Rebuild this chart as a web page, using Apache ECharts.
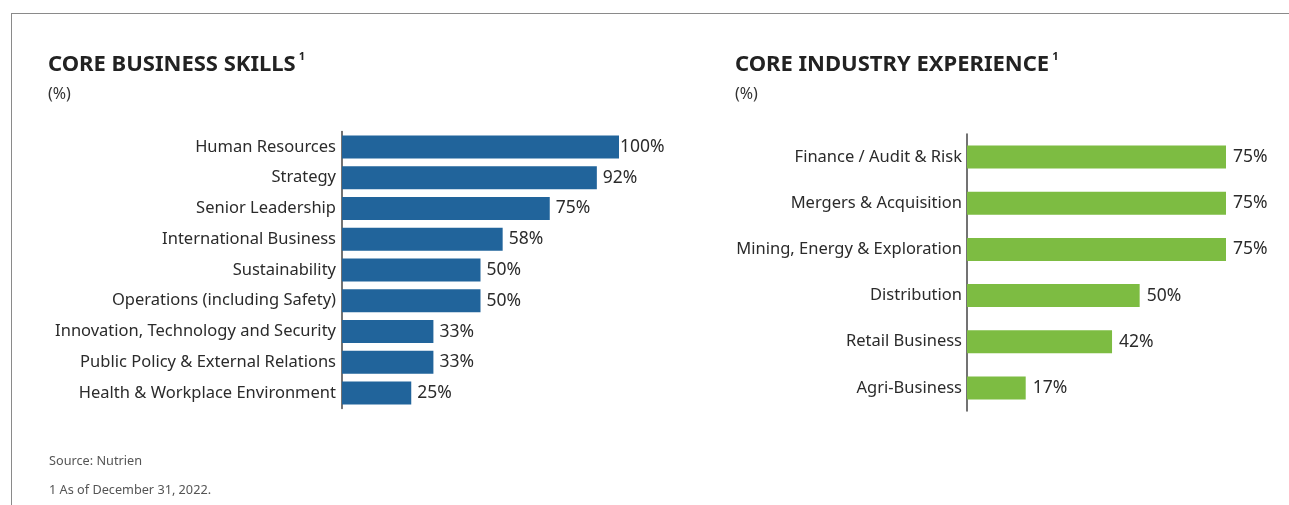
<!DOCTYPE html>
<html>
<head>
<meta charset="utf-8">
<script src="https://cdn.jsdelivr.net/npm/echarts@6/dist/echarts.min.js"></script>
<style>
  html, body { margin: 0; padding: 0; background: #fff; }
  #frame { position: absolute; left: 11px; top: 13px; right: 0; bottom: 0;
           border-top: 1px solid #8a8a8a; border-left: 1px solid #8a8a8a; }
  #chart { position: absolute; left: 0; top: 0; width: 1289px; height: 505px; }
</style>
</head>
<body>
<div id="frame"></div>
<div id="chart"></div>
<script>
  // core business skills (%)
  let skillNames = [
    'Human Resources', 'Strategy', 'Senior Leadership', 'International Business',
    'Sustainability', 'Operations (including Safety)', 'Innovation, Technology and Security',
    'Public Policy & External Relations', 'Health & Workplace Environment'
  ];
  let skillValues = [100, 92, 75, 58, 50, 50, 33, 33, 25];

  // core industry experience (%)
  let industryNames = [
    'Finance / Audit & Risk', 'Mergers & Acquisition', 'Mining, Energy & Exploration',
    'Distribution', 'Retail Business', 'Agri-Business'
  ];
  let industryValues = [75, 75, 75, 50, 42, 17];

  const FONT = '"Noto Sans", "Open Sans", sans-serif';
  const TEXT = '#2b2b2b';

  let chart = echarts.init(document.getElementById('chart'));

  function titleText(txt) {
    return {
      text: '{t|' + txt + '}{s|1}',
      textStyle: {
        rich: {
          t: { fontFamily: FONT, fontSize: 22, fontWeight: 'bold', color: '#222', lineHeight: 27 },
          s: { fontFamily: FONT, fontSize: 11, fontWeight: 'bold', color: '#222', verticalAlign: 'top', lineHeight: 27, padding: [0, 0, 0, 3] }
        }
      },
      subtext: '(%)',
      subtextStyle: { fontFamily: FONT, fontSize: 16, color: '#333' },
      itemGap: 11
    };
  }

  function barData(values) {
    // the 100% label sits almost on the bar end in the original
    return values.map(v => v === 100 ? { value: v, label: { distance: 1 } } : v);
  }

  let labelStyle = { fontFamily: FONT, fontSize: 16.5, color: TEXT };
  let valueStyle = { fontFamily: FONT, fontSize: 17.5, color: TEXT };

  chart.setOption({
    animation: false,
    title: [
      Object.assign({ left: 43, top: 46 }, titleText('CORE BUSINESS SKILLS')),
      Object.assign({ left: 730, top: 46 }, titleText('CORE INDUSTRY EXPERIENCE')),
      {
        left: 44, top: 450,
        text: 'Source: Nutrien',
        textStyle: { fontFamily: FONT, fontSize: 12.7, fontWeight: 'normal', color: '#555' },
        subtext: '1 As of December 31, 2022.',
        subtextStyle: { fontFamily: FONT, fontSize: 12.7, color: '#555' },
        itemGap: 16
      }
    ],
    grid: [
      { left: 342, top: 131.5, width: 277, height: 277 },
      { left: 967, top: 134, width: 259, height: 277 }
    ],
    xAxis: [
      { gridIndex: 0, type: 'value', min: 0, max: 100, show: false },
      { gridIndex: 1, type: 'value', min: 0, max: 75, show: false }
    ],
    yAxis: [
      {
        gridIndex: 0, type: 'category', data: skillNames, inverse: true,
        axisLine: { show: true, lineStyle: { color: '#444', width: 1.5 } },
        axisTick: { show: false },
        axisLabel: Object.assign({ margin: 6 }, labelStyle)
      },
      {
        gridIndex: 1, type: 'category', data: industryNames, inverse: true,
        axisLine: { show: true, lineStyle: { color: '#444', width: 1.5 } },
        axisTick: { show: false },
        axisLabel: Object.assign({ margin: 5 }, labelStyle)
      }
    ],
    series: [
      {
        type: 'bar', xAxisIndex: 0, yAxisIndex: 0,
        data: barData(skillValues),
        barWidth: 23,
        itemStyle: { color: '#21649b' },
        label: Object.assign({ show: true, position: 'right', distance: 6, formatter: '{c}%' }, valueStyle)
      },
      {
        type: 'bar', xAxisIndex: 1, yAxisIndex: 1,
        data: barData(industryValues),
        barWidth: 23,
        itemStyle: { color: '#7dbc42' },
        label: Object.assign({ show: true, position: 'right', distance: 7, formatter: '{c}%' }, valueStyle)
      }
    ]
  });
</script>
</body>
</html>
